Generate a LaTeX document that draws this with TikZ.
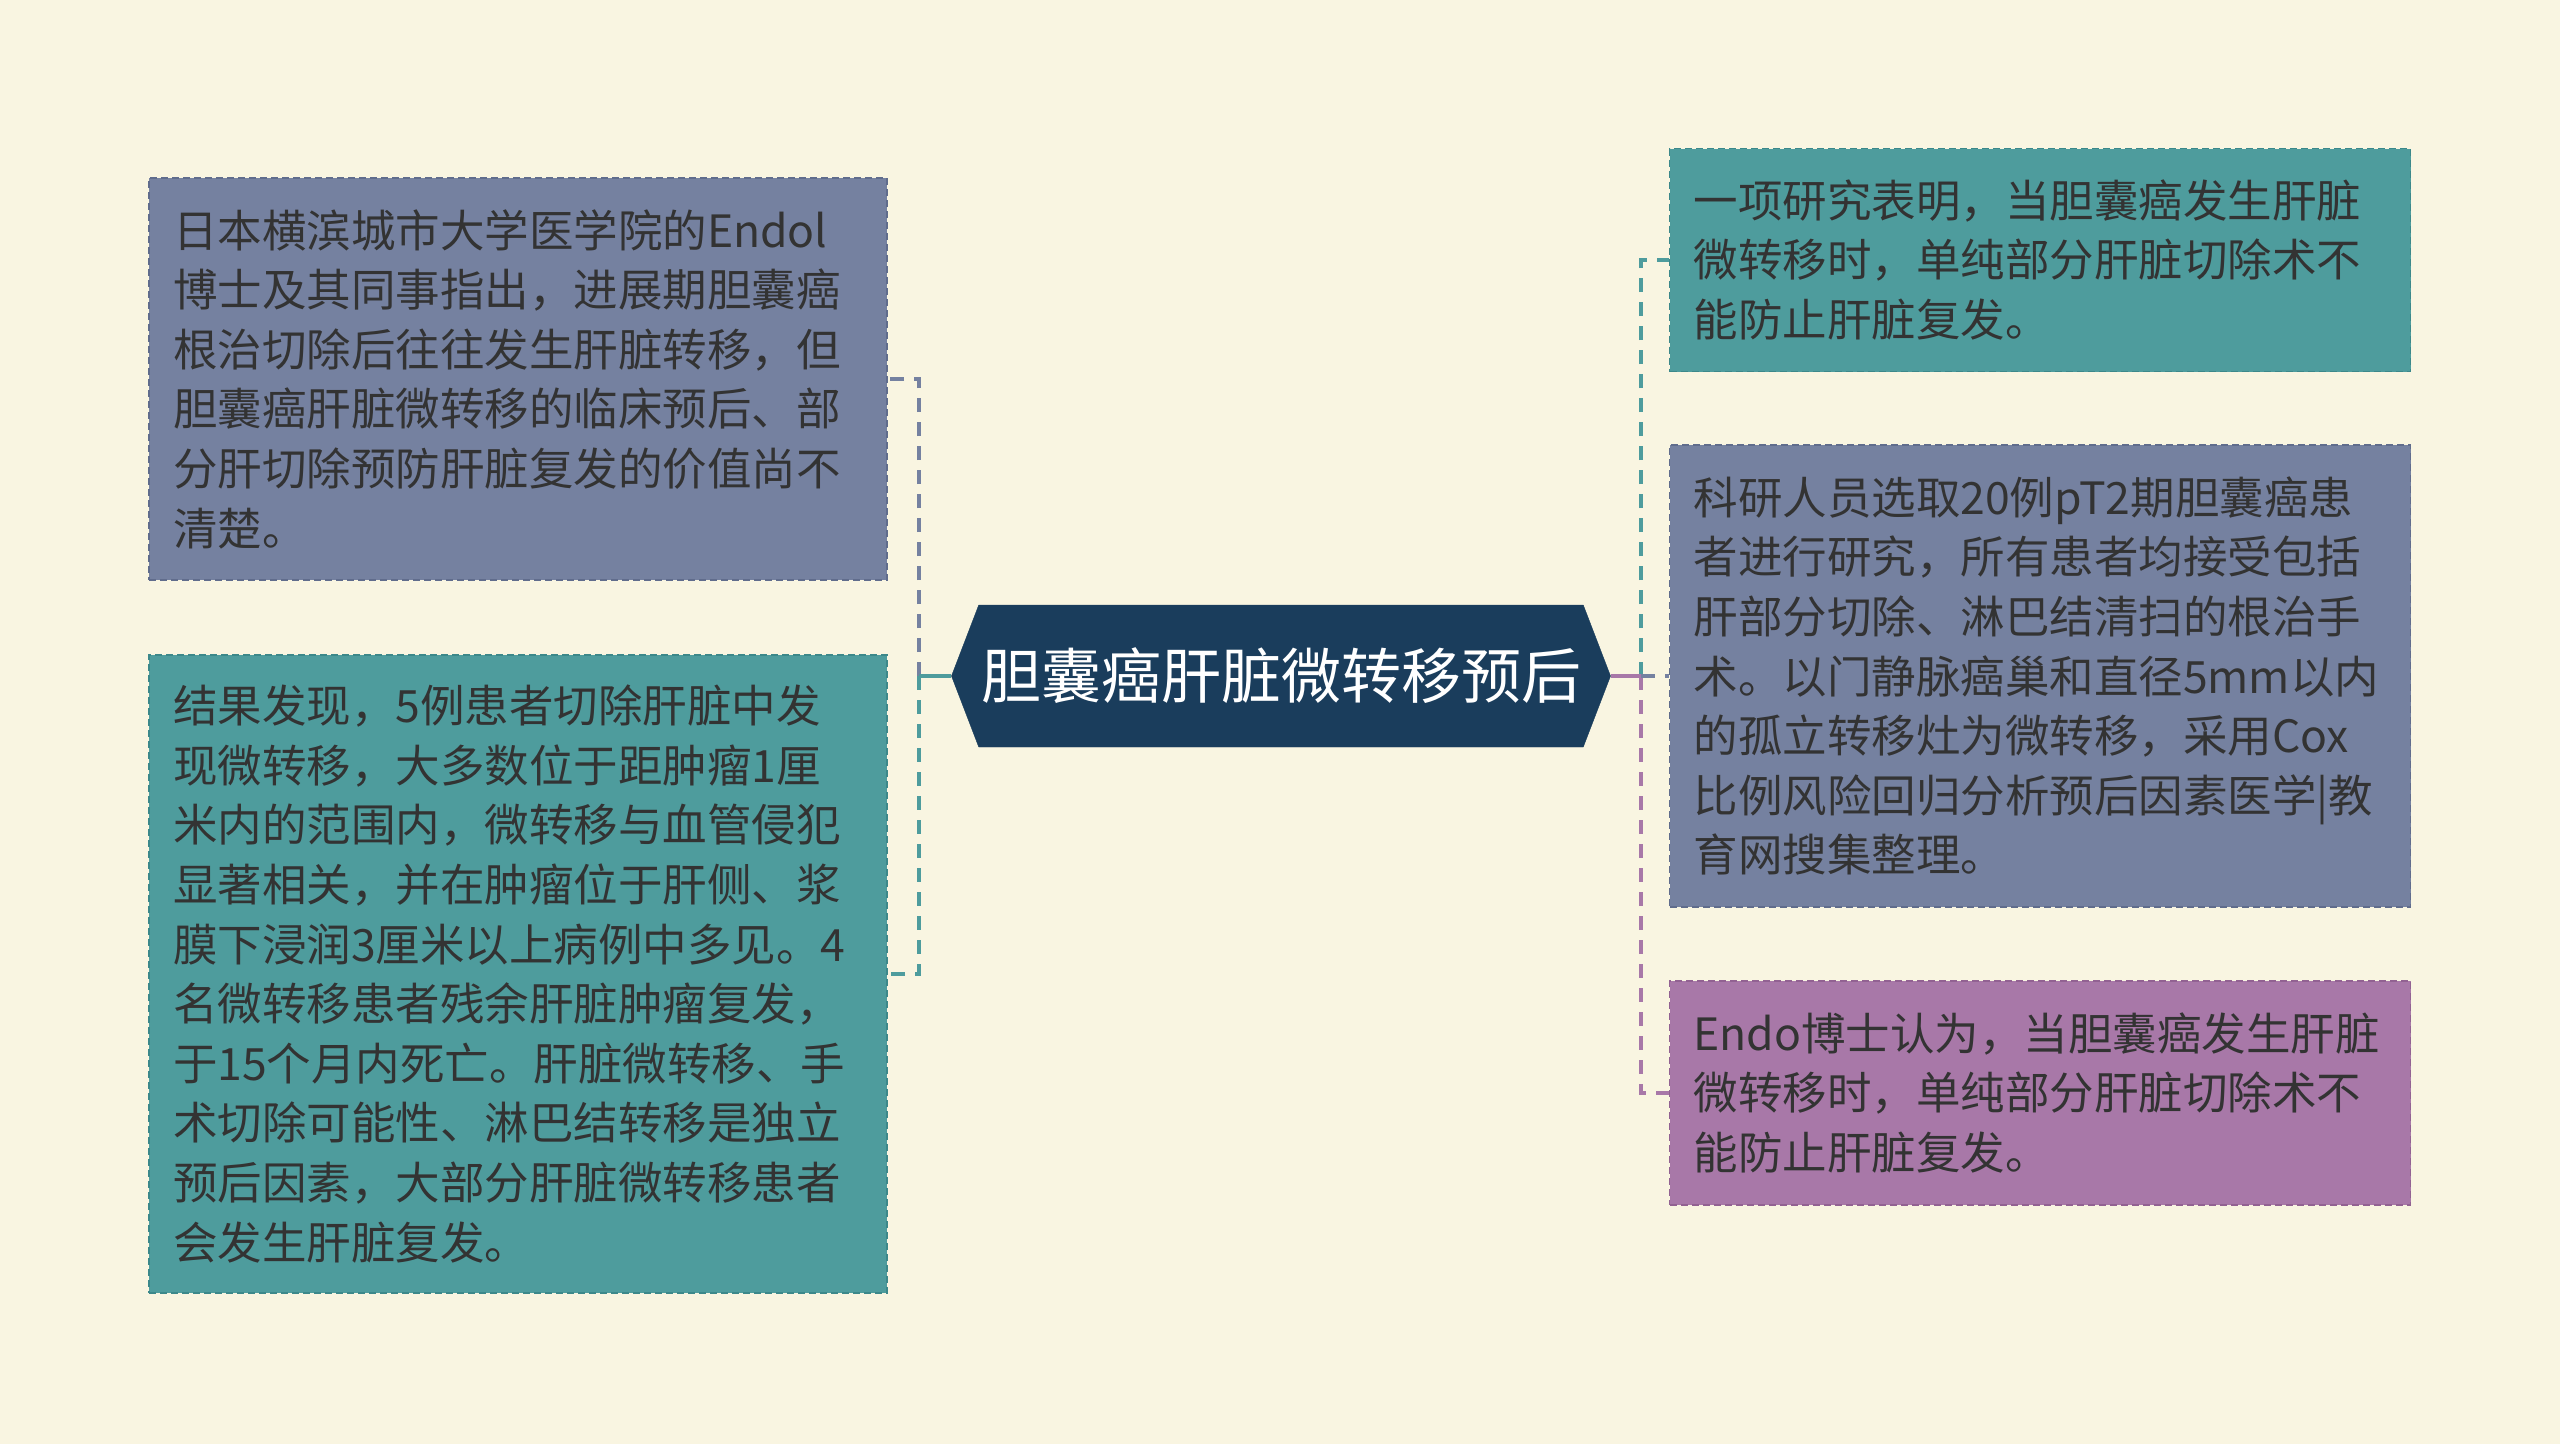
\documentclass[tikz,border=0pt]{standalone}
\usepackage{fontspec}
\usepackage{tikz}
\usetikzlibrary{shapes.symbols}
\newfontfamily\cjk{Noto Sans CJK SC}
\definecolor{paper}{RGB}{249,245,225}
\definecolor{slate}{RGB}{117,129,160}
\definecolor{slateline}{RGB}{96,108,140}
\definecolor{sea}{RGB}{78,156,157}
\definecolor{sealine}{RGB}{60,136,138}
\definecolor{plum}{RGB}{168,120,168}
\definecolor{plumline}{RGB}{146,98,146}
\definecolor{navy}{RGB}{26,61,92}
\definecolor{ink}{RGB}{51,51,51}
\tikzstyle{topic}=[signal, signal to=west and east, signal pointer angle=138, fill=navy, draw=navy, text=white, minimum width=659pt, minimum height=142pt, inner sep=0pt, font=\cjk\fontsize{60}{72}\selectfont]
\tikzstyle{leaf}=[rectangle, draw, line width=1.6pt, dash pattern=on 7pt off 4pt, text=ink, align=left, inner xsep=24pt, inner ysep=0pt, font=\cjk\fontsize{44.5}{59.6}\selectfont]
\tikzstyle{joint}=[line width=4pt]
\tikzstyle{branch}=[line width=4pt, dash pattern=on 14pt off 10pt]

\begin{document}
\begin{tikzpicture}[x=1pt, y=-1pt]
                    \fill[paper] (0,0) rectangle (2560,1444);
                    \useasboundingbox (0,0) rectangle (2560,1444);
                    \node[topic] (c) at (1281,676) {胆囊癌肝脏微转移预后};
                    \node[leaf, fill=slate, draw=slateline, text width=690pt, minimum height=402pt] (l1) at (518,379) {日本横滨城市大学医学院的Endol\\博士及其同事指出，进展期胆囊癌\\根治切除后往往发生肝脏转移，但\\胆囊癌肝脏微转移的临床预后、部\\分肝切除预防肝脏复发的价值尚不\\清楚。};
                    \node[leaf, fill=sea, draw=sealine, text width=690pt, minimum height=638pt] (l2) at (518,974) {结果发现，5例患者切除肝脏中发\\现微转移，大多数位于距肿瘤1厘\\米内的范围内，微转移与血管侵犯\\显著相关，并在肿瘤位于肝侧、浆\\膜下浸润3厘米以上病例中多见。4\\名微转移患者残余肝脏肿瘤复发，\\于15个月内死亡。肝脏微转移、手\\术切除可能性、淋巴结转移是独立\\预后因素，大部分肝脏微转移患者\\会发生肝脏复发。};
                    \node[leaf, fill=sea, draw=sealine, text width=693pt, minimum height=223pt] (r1) at (2040,260) {一项研究表明，当胆囊癌发生肝脏\\微转移时，单纯部分肝脏切除术不\\能防止肝脏复发。};
                    \node[leaf, fill=slate, draw=slateline, text width=693pt, minimum height=462pt] (r2) at (2040,676) {科研人员选取20例pT2期胆囊癌患\\者进行研究，所有患者均接受包括\\肝部分切除、淋巴结清扫的根治手\\术。以门静脉癌巢和直径5mm以内\\的孤立转移灶为微转移，采用Cox\\比例风险回归分析预后因素医学|教\\育网搜集整理。};
                    \node[leaf, fill=plum, draw=plumline, text width=693pt, minimum height=224pt] (r3) at (2040,1093) {Endo博士认为，当胆囊癌发生肝脏\\微转移时，单纯部分肝脏切除术不\\能防止肝脏复发。};
                    \coordinate (lj) at (919,676);
                    \coordinate (rj) at (1641,676);
                    \draw[branch, slate] (lj) |- (l1.east);
                    \draw[branch, sea] (lj) |- (l2.east);
                    \draw[joint, sea] (c.west) -- (lj);
                    \draw[branch, sea] (rj) |- (r1.west);
                    \draw[branch, plum] (rj) |- (r3.west);
                    \draw[branch, slate] (rj) -- (r2.west);
                    \draw[joint, plum] (c.east) -- (rj);
                \end{tikzpicture}
\end{document}
